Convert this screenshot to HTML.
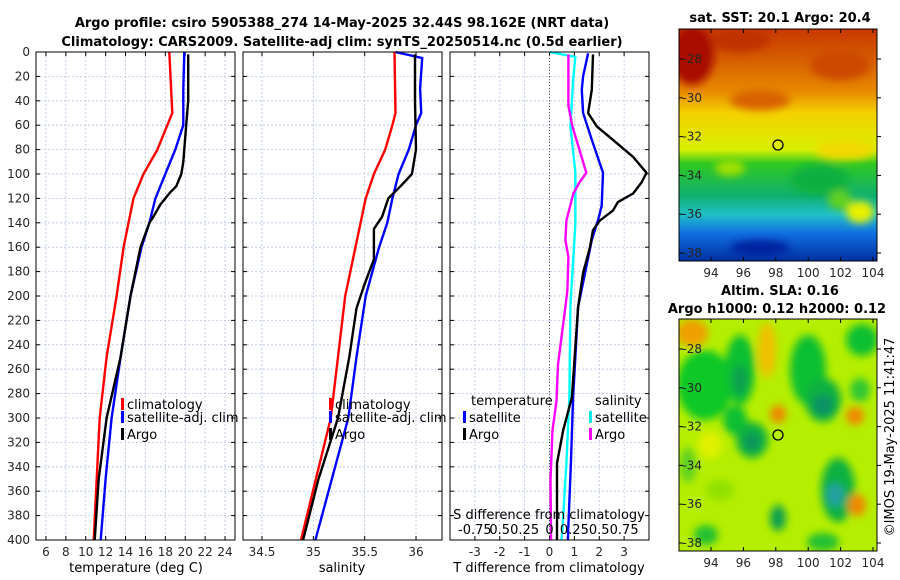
<!DOCTYPE html>
<html><head><meta charset="utf-8">
<style>
body{margin:0;background:#fff;}
svg{display:block;font-family:"DejaVu Sans","Liberation Sans",sans-serif;}
.t{font-weight:bold;font-size:13px;fill:#000;}
.tk{font-size:12px;fill:#262626;}
.lg{font-size:13px;fill:#000;}
</style></head>
<body>
<svg id="chart" width="900" height="580" viewBox="0 0 900 580">
<defs>
<filter id="blur" x="-30%" y="-30%" width="160%" height="160%"><feGaussianBlur stdDeviation="4"/></filter>
<linearGradient id="sstg" x1="0" y1="0" x2="0" y2="1">
<stop offset="0" stop-color="#c83800"/><stop offset="0.15" stop-color="#d86400"/>
<stop offset="0.27" stop-color="#e88a00"/><stop offset="0.36" stop-color="#f4d000"/>
<stop offset="0.52" stop-color="#d8f000"/><stop offset="0.58" stop-color="#30c820"/>
<stop offset="0.72" stop-color="#10b070"/><stop offset="0.8" stop-color="#20c0c8"/>
<stop offset="0.88" stop-color="#1070e0"/><stop offset="1" stop-color="#0030a0"/>
</linearGradient>
<clipPath id="c1"><rect x="679" y="29" width="198" height="232"/></clipPath>
<clipPath id="c2"><rect x="679" y="319" width="198" height="232"/></clipPath>
</defs>
<text class="t" x="342" y="27" text-anchor="middle">Argo profile: csiro 5905388_274 14-May-2025 32.44S 98.162E (NRT data)</text>
<text class="t" x="342" y="46" text-anchor="middle">Climatology: CARS2009. Satellite-adj clim: synTS_20250514.nc (0.5d earlier)</text>

<g id="p1"></g>
<g id="p2"></g>
<g id="p3"></g>

<g>
<text class="t" x="780" y="22" text-anchor="middle">sat. SST: 20.1 Argo: 20.4</text>
<g clip-path="url(#c1)">
<rect x="679" y="29" width="198" height="232" fill="url(#sstg)"/>
<g filter="url(#blur)">
<ellipse cx="692" cy="55" rx="22" ry="30" fill="#a81000"/>
<ellipse cx="740" cy="40" rx="30" ry="12" fill="#c03000"/>
<ellipse cx="840" cy="65" rx="30" ry="15" fill="#cc4800"/>
<ellipse cx="760" cy="100" rx="30" ry="10" fill="#d86000"/>
<ellipse cx="730" cy="168" rx="15" ry="8" fill="#a0e000"/>
<ellipse cx="845" cy="150" rx="30" ry="10" fill="#f0d800"/>
<ellipse cx="820" cy="180" rx="30" ry="15" fill="#10b040"/>
<ellipse cx="860" cy="212" rx="14" ry="11" fill="#e8f000"/>
<ellipse cx="840" cy="200" rx="12" ry="10" fill="#60d020"/>
<ellipse cx="760" cy="248" rx="30" ry="8" fill="#0020a0"/>
</g></g>
<rect x="679" y="29" width="198" height="232" fill="none" stroke="#000" stroke-width="1"/>
<circle cx="778" cy="145" r="5" fill="none" stroke="#000" stroke-width="1.3"/>
<g id="m1ticks"></g>
</g>

<g>
<text class="t" x="780" y="295" text-anchor="middle">Altim. SLA: 0.16</text>
<text class="t" x="777" y="313" text-anchor="middle">Argo h1000: 0.12 h2000: 0.12</text>
<g clip-path="url(#c2)">
<rect x="679" y="319" width="198" height="232" fill="#b4ee00"/>
<g filter="url(#blur)">
<ellipse cx="692" cy="333" rx="16" ry="14" fill="#f0a000"/>
<ellipse cx="767" cy="350" rx="9" ry="28" fill="#f0c000"/>
<ellipse cx="705" cy="385" rx="28" ry="35" fill="#10c828"/>
<ellipse cx="740" cy="370" rx="15" ry="35" fill="#10c030"/>
<ellipse cx="740" cy="380" rx="8" ry="15" fill="#10a050"/>
<ellipse cx="735" cy="420" rx="12" ry="15" fill="#10c030"/>
<ellipse cx="752" cy="440" rx="16" ry="18" fill="#10b040"/>
<ellipse cx="752" cy="442" rx="7" ry="8" fill="#109060"/>
<ellipse cx="808" cy="370" rx="18" ry="35" fill="#10c030"/>
<ellipse cx="823" cy="400" rx="18" ry="22" fill="#10b040"/>
<ellipse cx="823" cy="405" rx="10" ry="10" fill="#109068"/>
<ellipse cx="862" cy="340" rx="16" ry="16" fill="#10c030"/>
<ellipse cx="860" cy="390" rx="10" ry="12" fill="#30c830"/>
<ellipse cx="778" cy="414" rx="8" ry="9" fill="#f08800"/>
<ellipse cx="855" cy="416" rx="9" ry="9" fill="#f08800"/>
<ellipse cx="710" cy="445" rx="12" ry="14" fill="#e0f000"/>
<ellipse cx="838" cy="490" rx="17" ry="32" fill="#10b040"/>
<ellipse cx="835" cy="495" rx="9" ry="12" fill="#20a0a0"/>
<ellipse cx="857" cy="505" rx="9" ry="11" fill="#f08800"/>
<ellipse cx="778" cy="518" rx="8" ry="13" fill="#10a050"/>
<ellipse cx="706" cy="535" rx="12" ry="10" fill="#20c030"/>
<ellipse cx="823" cy="542" rx="16" ry="9" fill="#20c030"/>
<ellipse cx="688" cy="465" rx="8" ry="18" fill="#60d020"/>
<ellipse cx="720" cy="490" rx="14" ry="10" fill="#90e000"/>
</g></g>
<rect x="679" y="319" width="198" height="232" fill="none" stroke="#000" stroke-width="1"/>
<circle cx="778" cy="435" r="5" fill="none" stroke="#000" stroke-width="1.3"/>
<g id="m2ticks"></g>
</g>
<text class="lg" transform="translate(894,437) rotate(-90)" text-anchor="middle">©IMOS 19-May-2025 11:41:47</text>
</svg>
<script>
// ---- data ----
const depthTicks=[0,20,40,60,80,100,120,140,160,180,200,220,240,260,280,300,320,340,360,380,400];
const tTicks=[6,8,10,12,14,16,18,20,22,24];
const sTicks=[34.5,35,35.5,36];
const dTicks=[-3,-2,-1,0,1,2,3];
const sdTicks=[-0.75,-0.5,-0.25,0,0.25,0.5,0.75];
const sdLabels=["-0.75","0.5","0.25","0","0.25","0.5","0.75"];
const climTD=[0,50,60,80,100,120,140,160,200,250,300,350,400];
const climT=[18.4,18.7,18.2,17.2,15.8,14.8,14.3,13.8,13.1,12.1,11.4,11.1,10.8];
const satTD=[0,30,60,80,100,120,140,160,200,250,300,350,400];
const satT=[19.9,19.8,19.8,19.0,18.0,17.0,16.4,15.6,14.5,13.5,12.6,12.0,11.5];
const argoTD=[2,40,60,90,100,110,115,125,135,140,160,200,250,300,350,400];
const argoT=[20.3,20.3,20.1,19.8,19.6,19.1,18.5,17.5,16.8,16.4,15.5,14.5,13.5,12.1,11.3,10.9];
const climSD=[0,50,60,80,100,120,140,200,250,300,400];
const climS=[35.79,35.80,35.77,35.70,35.59,35.51,35.46,35.31,35.24,35.17,34.88];
const satSD=[0,5,30,50,60,80,100,120,140,160,200,250,300,400];
const satS=[35.80,36.06,36.04,36.05,36.00,35.93,35.83,35.77,35.72,35.64,35.51,35.42,35.34,35.02];
const argoSD=[2,40,80,100,110,120,135,145,155,170,190,210,250,300,350,400];
const argoS=[35.99,35.99,36.00,35.96,35.85,35.73,35.67,35.59,35.59,35.59,35.50,35.42,35.35,35.24,35.05,34.90];
const dTD=[2,31,50,61,72,86,99,107,116,123,130,138,146,160,181,209,283,310,337,365,392,400];
const argoDT=[1.75,1.7,1.55,1.9,2.55,3.36,3.9,3.7,3.36,2.75,2.55,2.03,1.75,1.63,1.35,1.15,0.9,0.55,0.3,0.3,0.3,0.3];
const satDD=[1,20,31,50,72,99,126,138,154,181,209,283,337,392,400];
const satDT=[1.55,1.35,1.3,1.35,1.7,2.15,2.1,1.95,1.7,1.43,1.15,0.95,0.86,0.75,0.74];
const satSDD=[0,4,20,61,99,140,209,283,337,392,400];
const satDS=[0,0.26,0.24,0.21,0.26,0.26,0.21,0.2,0.17,0.13,0.12];
const argoSDD=[2,44,61,80,99,107,116,138,154,168,195,209,256,286,310,351,392,400];
const argoDS=[0.19,0.19,0.23,0.3,0.37,0.3,0.24,0.17,0.16,0.19,0.18,0.16,0.085,0.07,0.03,0.01,0.015,0.015];
const lonTicks=[94,96,98,100,102,104];
const latTicks=[-28,-30,-32,-34,-36,-38];

// ---- helpers ----
const NS="http://www.w3.org/2000/svg";
function mk(tag,attrs,parent){const e=document.createElementNS(NS,tag);for(const k in attrs)e.setAttribute(k,attrs[k]);parent.appendChild(e);return e;}
const Y=d=>52+d*1.22;
const panels={
 p1:{x0:36,x1:235,v0:5,v1:25},
 p2:{x0:243,x1:442,v0:34.315,v1:36.253},
 p3:{x0:450,x1:649,v0:-4,v1:4}
};
function sx(p,v){return p.x0+(v-p.v0)/(p.v1-p.v0)*(p.x1-p.x0);}
const sdX=v=>549.5+v*99.5;

function frame(id,p,ticks,labels,leftLabels){
 const g=document.getElementById(id);
 mk('rect',{x:p.x0,y:52,width:p.x1-p.x0,height:488,fill:'#fff'},g);
 depthTicks.forEach(d=>{
  const l=mk('line',{x1:p.x0,x2:p.x1,y1:Y(d),y2:Y(d),stroke:'#b8c4e8','stroke-width':0.8,'stroke-dasharray':'2,2'},g);
  
  
  mk('line',{x1:p.x0,x2:p.x0+4,y1:Y(d),y2:Y(d),stroke:'#000'},g);
  mk('line',{x1:p.x1,x2:p.x1-4,y1:Y(d),y2:Y(d),stroke:'#000'},g);
  if(leftLabels){
   const t=mk('text',{x:p.x0-6,y:Y(d)+4,'text-anchor':'end',class:'tk'},g);t.textContent=d;
   
   
  }
 });
 ticks.forEach((v,i)=>{
  const x=sx(p,v);
  const l=mk('line',{x1:x,x2:x,y1:52,y2:540,stroke:'#b8c4e8','stroke-width':0.8,'stroke-dasharray':'2,2'},g);
  
  
  mk('line',{x1:x,x2:x,y1:540,y2:536,stroke:'#000'},g);
  mk('line',{x1:x,x2:x,y1:52,y2:56,stroke:'#000'},g);
  const t=mk('text',{x:x,y:556,'text-anchor':'middle',class:'tk'},g);t.textContent=labels[i];
  
  
 });
 return g;
}
function border(g,p){mk('rect',{x:p.x0,y:52,width:p.x1-p.x0,height:488,fill:'none',stroke:'#000','stroke-width':1},g);}
function line(g,xs,ds,fx,color,name){
 const pts=ds.map((d,i)=>fx(xs[i]).toFixed(1)+','+Y(d).toFixed(1)).join(' ');
 const e=mk('polyline',{points:pts,fill:'none',stroke:color,'stroke-width':2.4,'stroke-linejoin':'round'},g);
 
 
}
function legend(g,x,y,color,label,name){
 mk('rect',{x:x,y:y-11,width:3,height:12,fill:color},g);
 const t=mk('text',{x:x+6,y:y,class:'lg'},g);t.textContent=label;
 
 
}
function xlabel(g,x,y,txt,name){const t=mk('text',{x:x,y:y,'text-anchor':'middle',class:'lg'},g);t.textContent=txt;
 
 }

// panel 1
const P1=panels.p1;
const g1=frame('p1',P1,tTicks,tTicks,true);
line(g1,climT,climTD,v=>sx(P1,v),'#ff0000','climatology-temp-line');
line(g1,satT,satTD,v=>sx(P1,v),'#0000ff','satellite-temp-line');
line(g1,argoT,argoTD,v=>sx(P1,v),'#000000','argo-temp-line');
legend(g1,121,409,'#ff0000','climatology','legend-climatology');
legend(g1,121,422,'#0000ff','satellite-adj. clim','legend-satellite');
legend(g1,121,439,'#000000','Argo','legend-argo');
border(g1,P1);
xlabel(g1,136,572,'temperature (deg C)','x-axis-title-temperature');

// panel 2
const P2=panels.p2;
const g2=frame('p2',P2,sTicks,sTicks.map(String),false);
line(g2,climS,climSD,v=>sx(P2,v),'#ff0000','climatology-salinity-line');
line(g2,satS,satSD,v=>sx(P2,v),'#0000ff','satellite-salinity-line');
line(g2,argoS,argoSD,v=>sx(P2,v),'#000000','argo-salinity-line');
legend(g2,329,409,'#ff0000','climatology','legend-climatology-s');
legend(g2,329,422,'#0000ff','satellite-adj. clim','legend-satellite-s');
legend(g2,329,439,'#000000','Argo','legend-argo-s');
border(g2,P2);
xlabel(g2,342,572,'salinity','x-axis-title-salinity');

// panel 3
const P3=panels.p3;
const g3=frame('p3',P3,dTicks,dTicks.map(String),false);
mk('line',{x1:sx(P3,0),x2:sx(P3,0),y1:52,y2:540,stroke:'#555','stroke-width':1,'stroke-dasharray':'1,2'},g3);
line(g3,satDS,satSDD,sdX,'#00ffff','satellite-salinity-diff-line');
line(g3,argoDS,argoSDD,sdX,'#ff00ff','argo-salinity-diff-line');
line(g3,satDT,satDD,v=>sx(P3,v),'#0000ff','satellite-temp-diff-line');
line(g3,argoDT,dTD,v=>sx(P3,v),'#000000','argo-temp-diff-line');
let tt=mk('text',{x:471,y:405,class:'lg'},g3);tt.textContent='temperature';


legend(g3,463,422,'#0000ff','satellite','legend-temp-satellite');
legend(g3,463,439,'#000000','Argo','legend-temp-argo');
tt=mk('text',{x:595,y:405,class:'lg'},g3);tt.textContent='salinity';


legend(g3,589,422,'#00e8e8','satellite','legend-sal-satellite');
legend(g3,589,439,'#ff00ff','Argo','legend-sal-argo');
xlabel(g3,549,519,'S difference from climatology','s-diff-axis-title');
sdTicks.forEach((v,i)=>{const t=mk('text',{x:sdX(v),y:534,'text-anchor':'middle',class:'lg'},g3);t.textContent=sdLabels[i];
 
 });
border(g3,P3);
xlabel(g3,549,572,'T difference from climatology','t-diff-axis-title');

// map ticks
function mapTicks(id,top,latY0){
 const g=document.getElementById(id);
 lonTicks.forEach(v=>{const x=711+(v-94)*16.2;
  mk('line',{x1:x,x2:x,y1:top+232,y2:top+228,stroke:'#000'},g);
  mk('line',{x1:x,x2:x,y1:top,y2:top+4,stroke:'#000'},g);
  const t=mk('text',{x:x,y:top+248,'text-anchor':'middle',class:'tk'},g);t.textContent=v;
  
  });
 latTicks.forEach(v=>{const y=latY0+(-28-v)*19.4;
  mk('line',{x1:877,x2:881,y1:y,y2:y,stroke:'#000'},g);
  mk('line',{x1:679,x2:683,y1:y,y2:y,stroke:'#000'},g);
  const t=mk('text',{x:702,y:y+4,'text-anchor':'end',class:'tk'},g);t.textContent=v;
  
  });
}
mapTicks('m1ticks',29,59);
mapTicks('m2ticks',319,349);
</script>
</body></html>
